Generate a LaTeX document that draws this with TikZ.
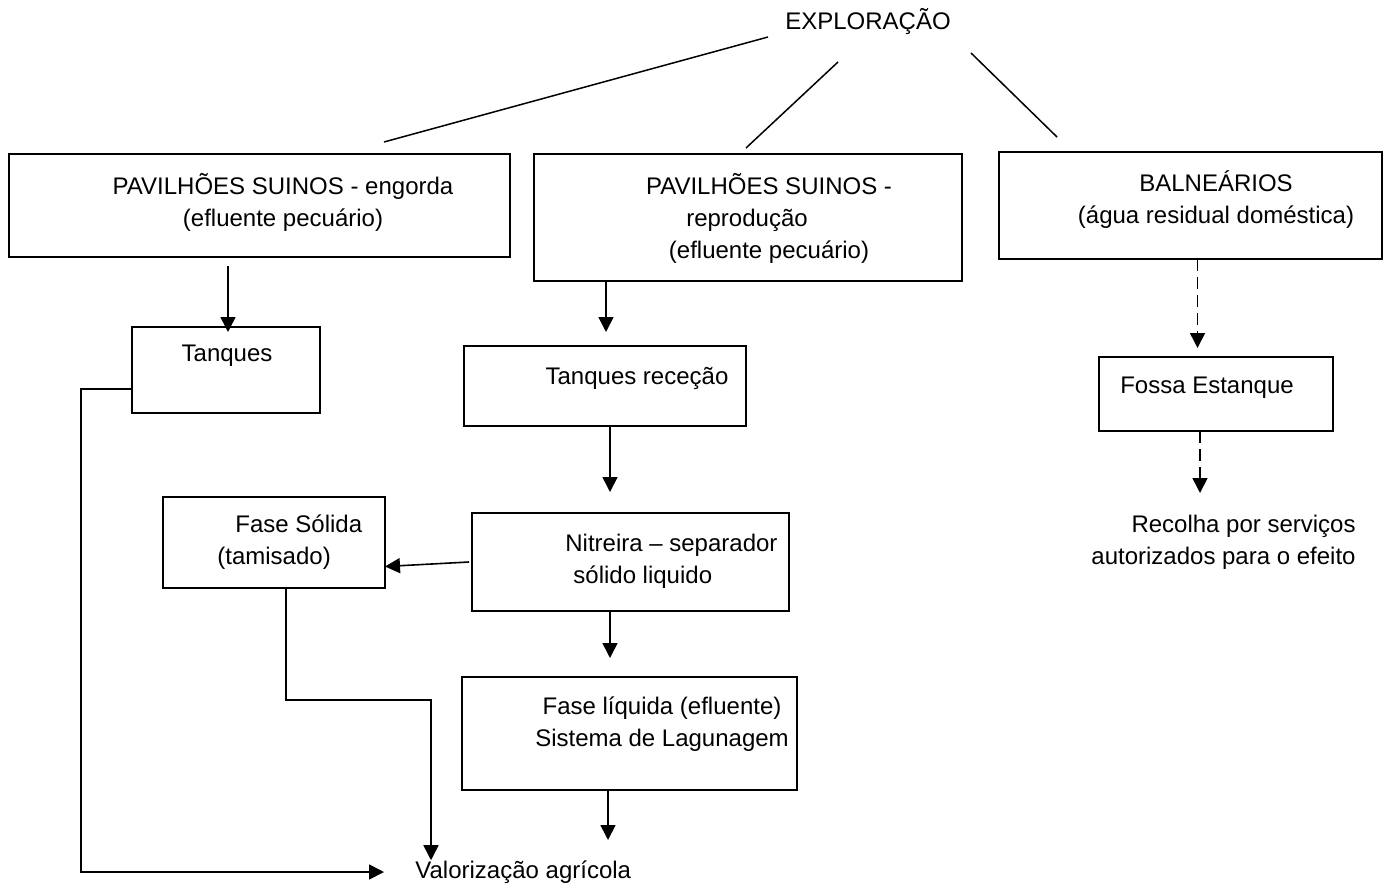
\documentclass[tikz,border=0pt]{standalone}
\usepackage{fontspec}
\setmainfont{Liberation Sans}
\usepackage{tikz}
\usetikzlibrary{arrows.meta, positioning}

\begin{document}
\begin{tikzpicture}[
    x=0.5pt, y=-0.5pt,
    box/.style={rectangle, draw, line width=0.85pt, inner sep=0pt, outer sep=0pt},
    txt/.style={font=\fontsize{12}{16}\selectfont, align=center, inner sep=0pt},
    arrow/.style={-{Triangle[length=7.5pt, width=7.5pt]}, line width=0.8pt},
    link/.style={line width=0.75pt},
    dasharrow/.style={arrow, dash pattern=on 6pt off 3pt}
]
    \useasboundingbox (0,0) rectangle (1384,888);

    % Top
    \node[txt] (expl) at (868,22) {EXPLORAÇÃO};
    \coordinate (l1a) at (768,37);  \coordinate (l1b) at (384,142);
    \coordinate (l2a) at (838,62);  \coordinate (l2b) at (746,148);
    \coordinate (l3a) at (971,53);  \coordinate (l3b) at (1057,137);

    % Pavilions
    \node[box, minimum width=250.5pt, minimum height=51.5pt] (pavA) at (259.5,205.5) {};
    \node[txt] (pavAt) at (283,202) {PAVILHÕES SUINOS - engorda\\(efluente pecuário)};
    \node[box, minimum width=214pt, minimum height=63.5pt] (pavB) at (748,217.5) {};
    \node[txt] (pavBt) at (769,218) {PAVILHÕES SUINOS -\\\hspace*{-22pt}reprodução\\(efluente pecuário)};
    \node[box, minimum width=191.5pt, minimum height=53.5pt] (baln) at (1190.5,205.5) {};
    \node[txt] (balnt) at (1216,200) {BALNEÁRIOS\\(água residual doméstica)};

    % Left branch
    \node[box, minimum width=94pt, minimum height=43pt] (tanq) at (226,370) {};
    \node[txt] (tanqt) at (227,356) {Tanques};

    % Middle branch
    \node[box, minimum width=141pt, minimum height=40pt] (trec) at (605,386) {};
    \node[txt] (trect) at (637,378) {Tanques receção};
    \node[box, minimum width=158.5pt, minimum height=49pt] (nitr) at (630.5,562) {};
    \node[txt, align=left, anchor=west] (nitrt) at (565,561) {Nitreira – separador\\\hspace*{4pt}sólido liquido};
    \node[box, minimum width=111pt, minimum height=45.5pt] (fsol) at (274,542.5) {};
    \node[txt, align=left, anchor=west] (fsolt) at (217,542) {\hspace*{9pt}Fase Sólida\\(tamisado)};
    \node[box, minimum width=167.5pt, minimum height=56.5pt] (fliq) at (629.5,733.5) {};
    \node[txt] (fliqt) at (662,724) {Fase líquida (efluente)\\Sistema de Lagunagem};
    \node[txt, anchor=west] (valor) at (415,872) {Valorização agrícola};

    % Right branch
    \node[box, minimum width=117pt, minimum height=37pt] (fossa) at (1216,394) {};
    \node[txt] (fossat) at (1207,388) {Fossa Estanque};
    \node[txt, align=right, anchor=east] (recol) at (1356,542) {Recolha por serviços\\autorizados para o efeito};

    \coordinate (lcorner) at (81,872);
    \coordinate (bend) at (431,700);
    \coordinate (vtip) at (608,840);
    \coordinate (rtip) at (1200,493);

    % Lines and arrows
    \draw[link] (l1a) -- (l1b);
    \draw[link] (l2a) -- (l2b);
    \draw[link] (l3a) -- (l3b);
    \draw[arrow, shorten <=4.5pt, shorten >=-2.5pt] ([xshift=1pt]tanq.north |- pavA.south) -- ([xshift=1pt]tanq.north);
    \draw[arrow, shorten >=7pt] ([xshift=0.5pt]trec.north |- pavB.south) -- ([xshift=0.5pt]trec.north);
    \draw[arrow, shorten >=10.5pt] ([xshift=2.5pt]trec.south) -- ([xshift=2.5pt]trec.south |- nitr.north);
    \draw[arrow, shorten >=9.5pt] ([xshift=-10.25pt]nitr.south) -- ([xshift=-10.25pt]nitr.south |- fliq.north);
    \draw[arrow] ([xshift=-1.5pt]nitr.west) -- ([yshift=-12pt]fsol.east);
    \draw[arrow] ([xshift=-10.75pt]fliq.south) -- (vtip);
    \draw[arrow] ([xshift=6pt]fsol.south) |- (bend) -- (bend |- valor.north);
    \draw[arrow, shorten >=15.5pt] ([yshift=-9.5pt]tanq.west) -| (lcorner) -- (valor.west);
    \draw[dasharrow, shorten >=4.5pt] ([xshift=3.5pt]baln.south) -- ([xshift=3.5pt]baln.south |- fossa.north);
    \draw[dasharrow] ([xshift=-8pt]fossa.south) -- (rtip);
\end{tikzpicture}
\end{document}
